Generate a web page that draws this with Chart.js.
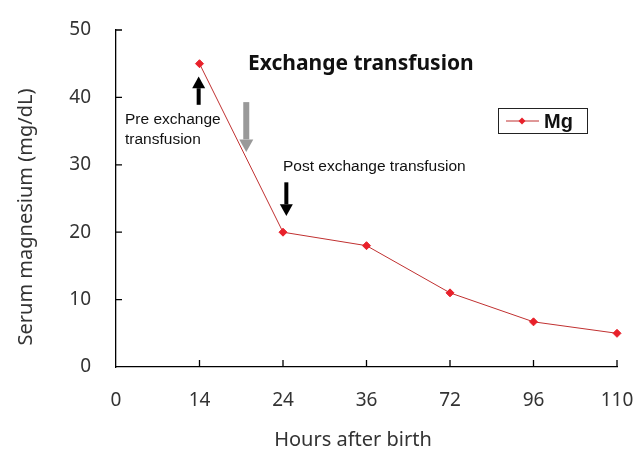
<!DOCTYPE html>
<html>
<head>
<meta charset="utf-8">
<script src="https://cdn.jsdelivr.net/npm/chart.js@4.4.1/dist/chart.umd.min.js"></script>
<style>
  html, body { margin: 0; background: #fff; }
  #wrap { width: 637px; height: 453px; }
</style>
</head>
<body>
<div id="wrap"><canvas id="chart"></canvas></div>
<script>
// data
const hours = ['0', '14', '24', '36', '72', '96', '110'];
const mgValues = [null, 45, 20, 18, 11, 6.7, 5];
const seriesName = 'Mg';
const chartTitle = 'Exchange transfusion';
const xTitle = 'Hours after birth';
const yTitle = 'Serum magnesium (mg/dL)';
const preLabel = ['Pre exchange', 'transfusion'];
const postLabel = 'Post exchange transfusion';

const tickFont = { family: 'Noto Sans', size: 19 };

// arrows + notes + legend + axis titles, placed with the chart's own scales
const notes = {
  id: 'notes',
  afterDraw(chart) {
    const ctx = chart.ctx;
    const xs = chart.scales.x, ys = chart.scales.y;
    const area = chart.chartArea;

    // inward tick marks
    ctx.save();
    ctx.strokeStyle = '#000';
    ctx.lineWidth = 1.3;
    ctx.beginPath();
    for (let i = 1; i < hours.length; i++) {
      const x = xs.getPixelForValue(i);
      ctx.moveTo(x, area.bottom);
      ctx.lineTo(x, area.bottom - 7);
    }
    for (let v = 10; v <= 50; v += 10) {
      const y = ys.getPixelForValue(v);
      ctx.moveTo(area.left, y);
      ctx.lineTo(area.left + 6, y);
    }
    ctx.stroke();

    const arrow = (xi, fromV, toV, color, shaft, head) => {
      const x = xs.getPixelForValue(xi);
      const y0 = ys.getPixelForValue(fromV);
      const y1 = ys.getPixelForValue(toV);
      const dir = y1 > y0 ? 1 : -1;
      const hl = head * 0.9;
      ctx.fillStyle = color;
      ctx.fillRect(x - shaft / 2, Math.min(y0, y1 - dir * hl), shaft, Math.abs(y1 - dir * hl - y0));
      ctx.beginPath();
      ctx.moveTo(x - head / 2, y1 - dir * hl);
      ctx.lineTo(x + head / 2, y1 - dir * hl);
      ctx.lineTo(x, y1);
      ctx.closePath();
      ctx.fill();
    };
    arrow(0.99, 38.9, 43.1, '#000', 4, 13);
    arrow(1.56, 39.3, 31.9, '#999', 6, 14);
    arrow(2.04, 27.4, 22.4, '#000', 4, 13);

    ctx.fillStyle = '#111';
    ctx.textBaseline = 'alphabetic';
    ctx.textAlign = 'left';
    ctx.font = 'bold 21px "Noto Sans"';
    ctx.fillText(chartTitle, 248, 70);
    ctx.font = '15.5px "Liberation Sans"';
    ctx.fillText(preLabel[0], 125, 124);
    ctx.fillText(preLabel[1], 125, 144);
    ctx.fillText(postLabel, 283, 171);

    // legend box
    ctx.strokeStyle = '#222';
    ctx.lineWidth = 1;
    ctx.strokeRect(498.5, 108.5, 89, 25);
    ctx.strokeStyle = '#c03030';
    ctx.beginPath();
    ctx.moveTo(506, 121);
    ctx.lineTo(539, 121);
    ctx.stroke();
    ctx.fillStyle = '#e8202a';
    ctx.beginPath();
    ctx.moveTo(522, 117.5); ctx.lineTo(525.5, 121); ctx.lineTo(522, 124.5); ctx.lineTo(518.5, 121);
    ctx.closePath();
    ctx.fill();
    ctx.fillStyle = '#111';
    ctx.font = 'bold 20px "Liberation Sans"';
    ctx.fillText(seriesName, 544, 128);

    // axis titles
    ctx.fillStyle = '#333';
    ctx.font = '20px "Noto Sans"';
    ctx.textAlign = 'center';
    ctx.textBaseline = 'middle';
    ctx.fillText(xTitle, 353, 440);
    ctx.translate(26, 217);
    ctx.rotate(-Math.PI / 2);
    ctx.fillText(yTitle, 0, 0);
    ctx.restore();
  }
};

new Chart(document.getElementById('chart'), {
  type: 'line',
  data: {
    labels: hours,
    datasets: [{
      label: seriesName,
      data: mgValues,
      borderColor: '#c03030',
      borderWidth: 1,
      pointStyle: 'rectRot',
      pointRadius: 4,
      pointBackgroundColor: '#e8202a',
      pointBorderColor: '#e8202a',
      tension: 0
    }]
  },
  options: {
    responsive: true,
    maintainAspectRatio: false,
    animation: false,
    layout: { padding: { top: 30, right: 0, left: 0, bottom: 0 } },
    plugins: { legend: { display: false }, tooltip: { enabled: false } },
    scales: {
      x: {
        offset: false,
        grid: { display: false },
        border: { color: '#000', width: 1.3 },
        ticks: { color: '#333', font: tickFont, padding: 14, maxRotation: 0, autoSkip: false },
        afterFit(scale) { scale.height = 86; scale.paddingRight = 20; scale.paddingLeft = 0; }
      },
      y: {
        min: 0, max: 50,
        grid: { display: false },
        border: { color: '#000', width: 1.3 },
        ticks: { stepSize: 10, color: '#333', font: tickFont, padding: 17 },
        afterFit(scale) { scale.width = 116; }
      }
    }
  },
  plugins: [notes]
});
</script>
</body>
</html>
